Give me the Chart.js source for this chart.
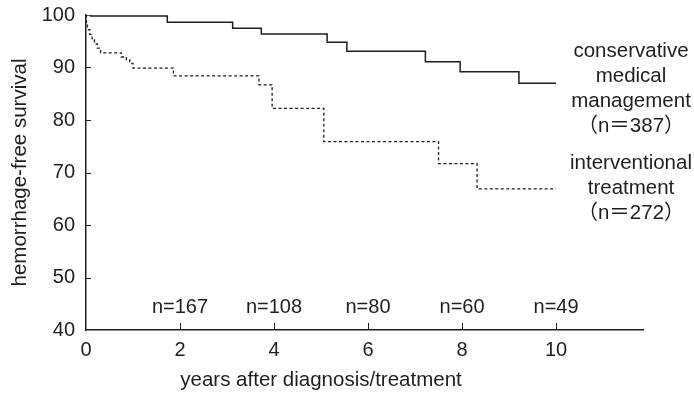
<!DOCTYPE html>
<html>
<head>
<meta charset="utf-8">
<script src="https://cdn.jsdelivr.net/npm/chart.js@4/dist/chart.umd.min.js"></script>
<style>
  html, body { margin: 0; padding: 0; background: #fff; }
  #wrap { width: 694px; height: 393px; }
</style>
</head>
<body>
<div id="wrap"><canvas id="km"></canvas></div>
<script>
// Kaplan-Meier curves (years, % hemorrhage-free)
const consTimes = [0, 0.1, 1.73, 3.12, 3.73, 5.13, 5.55, 7.22, 7.96, 9.21, 10];
const consSurv  = [100, 99.8, 98.6, 97.5, 96.4, 94.8, 93.1, 91.1, 89.2, 87.0, 87.0];

const intTimes = [0, 0.01, 0.03, 0.08, 0.13, 0.18, 0.24, 0.31, 0.75, 0.86, 0.93, 1.0, 1.86, 3.68, 3.96, 5.06, 7.5, 8.32, 10];
const intSurv  = [100, 98.2, 97.2, 96.3, 95.3, 94.5, 93.7, 92.8, 92.0, 91.5, 90.8, 89.9, 88.4, 86.7, 82.2, 75.9, 71.7, 66.9, 66.9];

// numbers at risk shown above the x axis
const riskYears = [2, 4, 6, 8, 10];
const riskLabels = ['n=167', 'n=108', 'n=80', 'n=60', 'n=49'];

const yTicks = [40, 50, 60, 70, 80, 90, 100];
const xTicks = [0, 2, 4, 6, 8, 10];

const xTitle = 'years after diagnosis/treatment';
const yTitle = 'hemorrhage-free survival';
const consLabel = ['conservative', 'medical', 'management', '（n＝387）'];
const intLabel = ['interventional', 'treatment', '（n＝272）'];

const FONT = '"Liberation Sans", Arial, "Noto Sans CJK JP", sans-serif';
const INK = '#1e1e1e';

function toPoints(ts, vs) {
    return ts.map((t, i) => ({ x: t, y: vs[i] }));
}

// tick marks inside the axes, risk table, x title and curve labels
const extras = {
    id: 'extras',
    afterDraw(chart) {
        const c = chart.ctx;
        const xs = chart.scales.x, ys = chart.scales.y;
        const area = chart.chartArea;
        c.save();
        c.strokeStyle = INK;
        c.lineWidth = 1;
        yTicks.forEach(v => {
            if (v === 40 || v === 100) return;
            const py = Math.round(ys.getPixelForValue(v)) + 0.5;
            c.beginPath();
            c.moveTo(area.left, py);
            c.lineTo(area.left + 5, py);
            c.stroke();
        });
        xTicks.forEach(v => {
            if (v === 0) return;
            const px = Math.round(xs.getPixelForValue(v)) + 0.5;
            c.beginPath();
            c.moveTo(px, area.bottom);
            c.lineTo(px, area.bottom - 7);
            c.stroke();
        });

        c.fillStyle = INK;
        c.font = '20px ' + FONT;
        c.textAlign = 'center';
        c.textBaseline = 'middle';
        riskYears.forEach((yr, i) => {
            c.fillText(riskLabels[i], xs.getPixelForValue(yr), area.bottom - 23);
        });

        // x title is centred under the 0-10 part of the axis
        c.font = '20.5px ' + FONT;
        c.fillText(xTitle, xs.getPixelForValue(5), area.bottom + 50);

        const lx = 631;
        consLabel.forEach((s, i) => c.fillText(s, lx, 51 + i * 25));
        intLabel.forEach((s, i) => c.fillText(s, lx, 163 + i * 25));
        c.restore();
    }
};

new Chart(document.getElementById('km'), {
    type: 'line',
    data: {
        datasets: [
            {
                label: 'conservative medical management',
                data: toPoints(consTimes, consSurv),
                stepped: true,
                borderColor: INK,
                borderWidth: 1.5,
                pointRadius: 0,
                fill: false
            },
            {
                label: 'interventional treatment',
                data: toPoints(intTimes, intSurv),
                stepped: true,
                borderColor: INK,
                borderWidth: 1.3,
                borderDash: [3, 2.5],
                pointRadius: 0,
                fill: false
            }
        ]
    },
    options: {
        responsive: true,
        maintainAspectRatio: false,
        animation: false,
        layout: { padding: { top: 15, right: 51, left: 0, bottom: 0 } },
        plugins: {
            legend: { display: false },
            tooltip: { enabled: false }
        },
        scales: {
            x: {
                type: 'linear',
                min: 0,
                max: 11.85,
                afterFit: s => { s.height = 63; s.paddingLeft = 0; s.paddingRight = 0; },
                afterBuildTicks: s => { s.ticks = xTicks.map(v => ({ value: v })); },
                grid: { display: false, drawTicks: false },
                border: { display: true, color: INK, width: 1.5 },
                ticks: {
                    color: INK,
                    padding: 8,
                    font: { family: FONT, size: 20 }
                },
                title: { display: false }
            },
            y: {
                min: 40,
                max: 100,
                afterFit: s => { s.width = 86; s.paddingTop = 0; s.paddingBottom = 0; },
                afterBuildTicks: s => { s.ticks = yTicks.map(v => ({ value: v })); },
                grid: { display: false, drawTicks: false },
                border: { display: true, color: INK, width: 1.5 },
                ticks: {
                    color: INK,
                    padding: 11,
                    font: { family: FONT, size: 20 }
                },
                title: {
                    display: true,
                    text: yTitle,
                    color: INK,
                    font: { family: FONT, size: 20.5 },
                    padding: { top: 8, bottom: 0 }
                }
            }
        }
    },
    plugins: [extras]
});
</script>
</body>
</html>
